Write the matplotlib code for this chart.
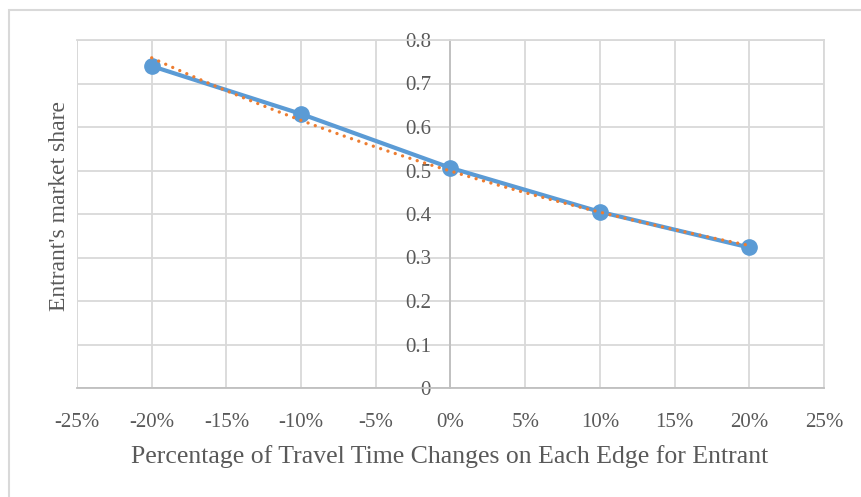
import numpy as np
import matplotlib
matplotlib.use("Agg")
import matplotlib.pyplot as plt
from matplotlib.patches import Rectangle
from matplotlib.ticker import FuncFormatter

# Data
pct_change = [-0.20, -0.10, 0.00, 0.10, 0.20]
market_share = [0.740, 0.630, 0.506, 0.405, 0.323]
x_ticks = [-0.25, -0.20, -0.15, -0.10, -0.05, 0.0, 0.05, 0.10, 0.15, 0.20, 0.25]
y_ticks = [0, 0.1, 0.2, 0.3, 0.4, 0.5, 0.6, 0.7, 0.8]

plt.rcParams['font.family'] = ['Liberation Serif', 'DejaVu Serif']
text_color = '#595959'
grid_color = '#d9d9d9'
axis_color = '#bfbfbf'
blue = '#5B9BD5'
orange = '#ED7D31'

W, H = 862, 497
fig = plt.figure(figsize=(W / 100, H / 100), dpi=100)

# outer chart border (cropped on right / bottom)
fig.patches.append(Rectangle((9 / W, -0.1), 2.0, 1 - 10 / H + 0.1,
                             transform=fig.transFigure, fill=False,
                             edgecolor='#d9d9d9', linewidth=1.5))

ax = fig.add_axes([77 / W, 1 - 388 / H, (824 - 77) / W, (388 - 40) / H])
ax.set_xlim(-0.25, 0.25)
ax.set_ylim(0, 0.8)

ax.set_xticks(x_ticks)
ax.set_yticks(y_ticks)
ax.xaxis.set_major_formatter(FuncFormatter(lambda v, p: f"{round(v * 100):d}%"))
ax.yaxis.set_major_formatter(FuncFormatter(lambda v, p: "0" if v == 0 else f"{v:.1f}"))
ax.grid(True, color=grid_color, linewidth=1.3)
ax.set_axisbelow(True)

for s in ['top', 'right']:
    ax.spines[s].set_color(grid_color)
    ax.spines[s].set_linewidth(1.3)
ax.spines['bottom'].set_color(axis_color)
ax.spines['bottom'].set_linewidth(1.3)
ax.spines['left'].set_position(('data', 0))
ax.spines['left'].set_color(axis_color)
ax.spines['left'].set_linewidth(1.3)
# left border of plot area
ax.axvline(-0.25, color=grid_color, linewidth=1.3, zorder=0)

ax.tick_params(axis='both', length=0, labelsize=15, labelcolor=text_color)
ax.tick_params(axis='x', pad=18)
ax.tick_params(axis='y', pad=14)

# data series
ax.plot(pct_change, market_share, color=blue, linewidth=3.0, marker='o',
        markersize=11, zorder=3, clip_on=False)

# exponential trendline (fitted to the data, like Excel)
xs = np.array(pct_change)
b, lna = np.polyfit(xs, np.log(market_share), 1)
xt = np.linspace(xs.min(), xs.max(), 100)
ax.plot(xt, np.exp(lna + b * xt), color=orange, linewidth=2.4,
        linestyle=(0, (0.01, 2.3)), dash_capstyle='round', zorder=4, clip_on=False)

fig.text(450 / W, 1 - 457 / H, 'Percentage of Travel Time Changes on Each Edge for Entrant',
         ha='center', va='center', fontsize=18.5, color=text_color)
fig.text(60 / W, 1 - 206 / H, "Entrant's market share", rotation=90,
         ha='center', va='center', fontsize=17, color=text_color)

fig.savefig('out.png', dpi=100)
